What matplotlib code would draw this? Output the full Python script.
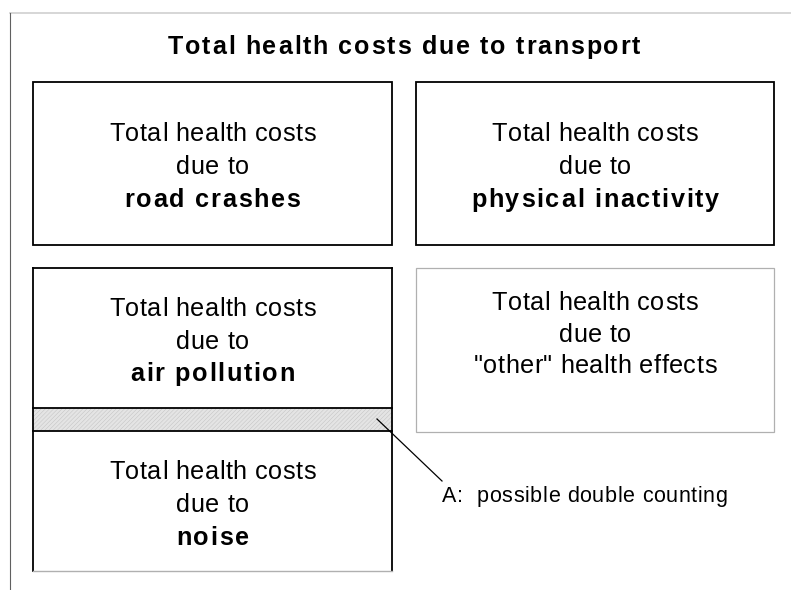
import matplotlib
matplotlib.use("Agg")
import matplotlib.pyplot as plt
from matplotlib.font_manager import FontProperties, findfont, get_font
from matplotlib.patches import Rectangle

W, H, DPI = 791, 590, 100
FONT = "Liberation Sans"

title = "Total health costs due to transport"
lead = ["Total health costs", "due to"]
effects = ["road crashes", "physical inactivity", "air pollution", "noise"]
other_lines = ["Total health costs", "due to", '"other" health effects']
note = "A:  possible double counting"


def advances(s, size, weight):
    font = get_font(findfont(FontProperties(family=FONT, weight=weight)))
    font.set_size(size, DPI)
    return [font.load_char(ord(c)).linearHoriAdvance / 65536 for c in s]


def spaced(ax, x, y, s, size, weight="normal", track=0.0, ha="center"):
    # draw text char by char so the letter spacing of the original can be mimicked
    adv = advances(s, size, weight)
    total = sum(adv) + track * (len(s) - 1)
    if ha == "center":
        x = x - total / 2
    for c, a in zip(s, adv):
        if c != " ":
            ax.text(x, y, c, fontsize=size, fontweight=weight, family=FONT,
                    ha="left", va="baseline", color="black")
        x += a + track


def block(ax, cx, baselines, lines, bold_last=True):
    for i, (b, s) in enumerate(zip(baselines, lines)):
        if bold_last and i == len(lines) - 1:
            spaced(ax, cx, b, s, 18.2, "bold", 1.7)
        else:
            spaced(ax, cx, b, s, 18.2, "normal", 0.5)


fig = plt.figure(figsize=(W / DPI, H / DPI), dpi=DPI)
ax = fig.add_axes([0, 0, 1, 1])
ax.set_xlim(0, W)
ax.set_ylim(H, 0)
ax.axis("off")

# outer frame
ax.plot([9.5, 791], [13, 13], color="#d0d0d0", lw=1.2)
ax.plot([9.5, 9.5], [13, 590], color="#606060", lw=0.8)

spaced(ax, 404, 54, title, 18, "bold", 1.8)

# top row
ax.add_patch(Rectangle((33, 82), 359, 163, fill=False, ec="black", lw=1.3))
ax.add_patch(Rectangle((416, 82), 358, 163, fill=False, ec="black", lw=1.3))
block(ax, 212.5, [141, 174, 207], lead + [effects[0]])
block(ax, 595, [141, 174, 207], lead + [effects[1]])

# other effects box
ax.add_patch(Rectangle((416, 268), 358, 164, fill=False, ec="#b0b0b0", lw=0.9))
block(ax, 595, [310, 342, 373], other_lines, bold_last=False)

# air pollution / noise column with overlap band
plt.rcParams["hatch.linewidth"] = 0.3
ax.add_patch(Rectangle((33, 408), 359, 23, fc="#e4e4e4", ec="#bdbdbd",
                       hatch="////////", lw=0))
ax.plot([33, 392], [408, 408], color="black", lw=1.3)
ax.plot([33, 392], [431, 431], color="black", lw=1.3)
ax.plot([33, 392], [268, 268], color="black", lw=1.3)
ax.plot([33, 33], [268, 571], color="black", lw=1.3)
ax.plot([392, 392], [268, 571], color="black", lw=1.3)
ax.plot([33, 392], [571, 571], color="#b0b0b0", lw=1.0)
block(ax, 212.5, [316, 349, 381], lead + [effects[2]])
block(ax, 212.5, [479, 512, 545], lead + [effects[3]])

# pointer to the double counting band
ax.plot([377, 442], [419, 481], color="black", lw=0.9)
spaced(ax, 442, 502, note, 15.5, "normal", 0.6, ha="left")

fig.savefig("out.png", dpi=DPI)
